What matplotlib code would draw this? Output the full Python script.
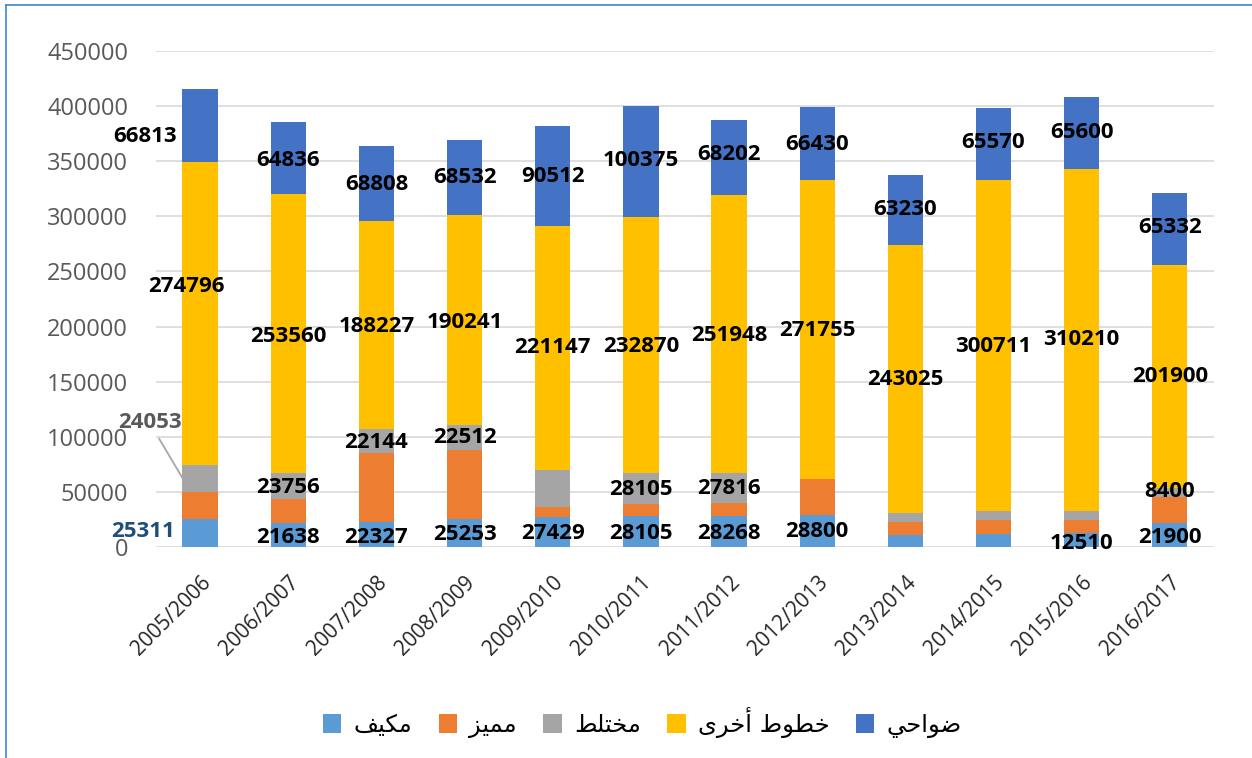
import matplotlib
matplotlib.use('Agg')
import matplotlib.pyplot as plt
import numpy as np

seasons = ["2005/2006", "2006/2007", "2007/2008", "2008/2009", "2009/2010", "2010/2011",
           "2011/2012", "2012/2013", "2013/2014", "2014/2015", "2015/2016", "2016/2017"]

# series, bottom to top
mukayyaf = [25311, 21638, 22327, 25253, 27429, 28105, 28268, 28800, 11000, 12100, 12510, 21900]
mumayyaz = [25000, 21700, 62700, 63000, 9000, 10500, 11400, 32600, 11700, 12700, 12300, 23500]
mukhtalat = [24053, 23756, 22144, 22512, 33500, 28105, 27816, 0, 8400, 7600, 7600, 8400]
khutut = [274796, 253560, 188227, 190241, 221147, 232870, 251948, 271755, 243025, 300711, 310210, 201900]
dawahi = [66813, 64836, 68808, 68532, 90512, 100375, 68202, 66430, 63230, 65570, 65600, 65332]

# legend names, already shaped (presentation forms) and in visual order,
# since matplotlib does no arabic shaping / bidi
names = [
    "\uFED2\uFEF4\uFEDC\uFEE3",                                   # مكيف
    "\uFEB0\uFEF4\uFEE4\uFEE3",                                   # مميز
    "\uFEC2\uFEE0\uFE98\uFEA8\uFEE3",                             # مختلط
    "\uFEEF\uFEAE\uFEA7\uFE83 \uFEC1\uFEEE\uFEC4\uFEA7",          # خطوط أخرى
    "\uFEF2\uFEA3\uFE8D\uFEEE\uFEBF",                             # ضواحي
]
colors = ["#5B9BD5", "#ED7D31", "#A5A5A5", "#FFC000", "#4472C4"]

yticks = list(range(0, 450001, 50000))

# which data labels are shown: (series, bar, x shift, label height)
shown_labels = [
    (4, 0, -0.62, 372000), (3, 0, -0.16, 236000), (2, 0, -0.57, 112500), (0, 0, -0.65, 13600),
    (4, 1, 0, 351000), (3, 1, 0, 191000), (2, 1, 0, 54000), (0, 1, 0, 9000),
    (4, 2, 0, 329000), (3, 2, 0, 200000), (2, 2, 0, 95000), (0, 2, 0, 9000),
    (4, 3, 0, 335000), (3, 3, 0, 204000), (2, 3, 0, 99000), (0, 3, 0, 11000),
    (4, 4, 0, 336000), (3, 4, 0, 180600), (0, 4, 0, 11800),
    (4, 5, 0, 351000), (3, 5, 0, 181500), (2, 5, 0, 52600), (0, 5, 0, 11800),
    (4, 6, 0, 356000), (3, 6, 0, 192000), (2, 6, 0, 53500), (0, 6, 0, 11800),
    (4, 7, 0, 365000), (3, 7, 0, 196000), (0, 7, 0, 13600),
    (4, 8, 0, 306000), (3, 8, 0, 151500),
    (4, 9, 0, 366600), (3, 9, 0, 181500),
    (4, 10, 0, 375700), (3, 10, 0, 188000), (0, 10, 0, 3600),
    (4, 11, 0, 289500), (3, 11, 0, 155000), (2, 11, 0, 50000), (0, 11, 0, 9000),
]

series = [mukayyaf, mumayyaz, mukhtalat, khutut, dawahi]

fig = plt.figure(figsize=(12.52, 7.58), dpi=100)
ax = fig.add_axes([0.1246, 0.2784, 0.845, 0.6543])

x = np.arange(len(seasons))
bottom = np.zeros(len(seasons))
handles = []
for vals, col, nm in zip(series, colors, names):
    b = ax.bar(x, vals, 0.4, bottom=bottom, color=col, label=nm, zorder=3)
    handles.append(b)
    bottom += np.array(vals)

lab_font = dict(ha="center", va="center", fontsize=16, fontweight="bold",
                family="Open Sans", zorder=5)
for s, i, dx, yy in shown_labels:
    txt = str(series[s][i])
    col = "black"
    if s == 0 and i == 0:
        col = "#1F4E79"
    if s == 2 and i == 0:
        # this one was dragged off the bar, with a leader line
        ax.annotate(txt, xy=(i - 0.2, 62600), xytext=(i + dx, yy), color="#595959",
                    arrowprops=dict(arrowstyle="-", color="#A6A6A6", lw=1.3,
                                    shrinkA=2, shrinkB=0), **lab_font)
        continue
    ax.text(i + dx, yy, txt, color=col, **lab_font)

ax.set_xlim(-0.5, len(seasons) - 0.5)
ax.set_ylim(0, 450000)
ax.set_yticks(yticks)
ax.set_yticklabels([str(v) for v in yticks], family="Open Sans", fontsize=17, color="#595959")
ax.set_xticks(x)
ax.set_xticklabels(seasons, rotation=45, ha="right", rotation_mode="anchor",
                   family="Open Sans", fontsize=15, color="#262626")
ax.tick_params(axis="y", length=0, pad=20)
ax.tick_params(axis="x", length=0, pad=18)
ax.grid(axis="y", color="#D9D9D9", lw=1.2, zorder=0)
for sp in ax.spines.values():
    sp.set_visible(False)

fig.legend(handles=handles, loc="center", bbox_to_anchor=(0.513, 0.047), ncol=5,
           frameon=False, handlelength=0.75, handleheight=0.8, handletextpad=0.5,
           columnspacing=1.1, prop={"family": "DejaVu Sans", "size": 17.5})

# thin blue frame at top and left of the picture
fig.add_artist(plt.Line2D([0.0048, 0.0048], [0, 0.994], transform=fig.transFigure,
                          color="#3B87C8", lw=1.2))
fig.add_artist(plt.Line2D([0.0048, 1], [0.994, 0.994], transform=fig.transFigure,
                          color="#3B87C8", lw=1.2))

fig.savefig("out.png", dpi=100)
